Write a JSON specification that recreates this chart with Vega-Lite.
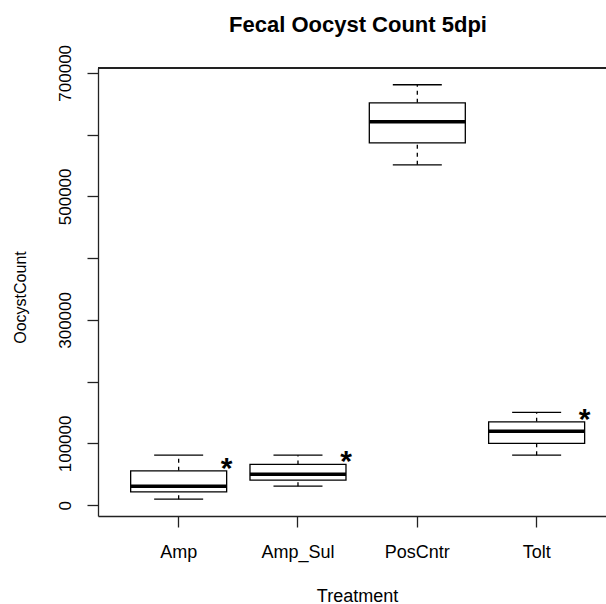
{
  "$schema": "https://vega.github.io/schema/vega-lite/v6.json",
  "autosize": {"type": "none"},
  "padding": {"left": 98, "top": 68, "right": 0, "bottom": 88},
  "width": 508,
  "height": 448,
  "background": "white",
  "title": {
    "text": "Fecal Oocyst Count 5dpi",
    "font": "Liberation Sans",
    "fontSize": 22,
    "fontWeight": "bold",
    "color": "black",
    "anchor": "middle",
    "baseline": "alphabetic",
    "offset": 16,
    "dx": 6,
    "dy": 26
  },
  "config": {
    "view": {"stroke": null},
    "axis": {
      "labelFont": "Liberation Sans",
      "titleFont": "Liberation Sans",
      "labelColor": "black",
      "titleColor": "black",
      "domainColor": "#222",
      "tickColor": "#222",
      "domainWidth": 1.3,
      "tickWidth": 1.3,
      "grid": false,
      "titleFontWeight": "normal"
    }
  },
  "data": {
    "values": [
      {"Treatment": "Amp", "min": 9700, "q1": 21600, "median": 30800, "q3": 55600, "max": 81000, "sig": "*"},
      {"Treatment": "Amp_Sul", "min": 30800, "q1": 40500, "median": 50200, "q3": 66000, "max": 81000, "sig": "*"},
      {"Treatment": "PosCntr", "min": 551000, "q1": 586700, "median": 620700, "q3": 651500, "max": 680700, "sig": ""},
      {"Treatment": "Tolt", "min": 81000, "q1": 100000, "median": 119900, "q3": 135000, "max": 150200, "sig": "*"}
    ]
  },
  "layer": [
    {
      "mark": {"type": "rule", "strokeDash": [4, 4], "strokeWidth": 1.3, "color": "black"},
      "encoding": {
        "x": {
          "field": "Treatment",
          "type": "nominal",
          "scale": {"type": "band", "paddingInner": 0, "paddingOuter": 0.1286, "align": 0.684},
          "axis": {
            "title": "Treatment",
            "titleFontSize": 18,
            "titleX": 259,
            "titleY": 85,
            "titleAlign": "center",
            "titleBaseline": "alphabetic",
            "labelFontSize": 18,
            "labelAngle": 0,
            "labelBaseline": "alphabetic",
            "labelPadding": 30,
            "tickSize": 11
          }
        },
        "y": {
          "field": "q3",
          "type": "quantitative",
          "scale": {"domain": [-17500, 707800], "nice": false, "zero": false},
          "axis": {
            "title": "OocystCount",
            "titleFontSize": 16,
            "titleAngle": 270,
            "titleX": -73,
            "titleY": 229,
            "titleAlign": "center",
            "titleBaseline": "alphabetic",
            "values": [0, 100000, 200000, 300000, 400000, 500000, 600000, 700000],
            "format": "d",
            "labelExpr": "(datum.value == 0 || datum.value % 200000 == 100000) ? datum.label : ''",
            "labelFontSize": 17,
            "labelAngle": 270,
            "labelAlign": "center",
            "labelBaseline": "alphabetic",
            "labelPadding": 17,
            "labelOverlap": false,
            "labelFlush": false,
            "tickSize": 11
          }
        },
        "y2": {"field": "max"}
      }
    },
    {
      "mark": {"type": "rule", "strokeDash": [4, 4], "strokeWidth": 1.3, "color": "black"},
      "encoding": {
        "x": {"field": "Treatment", "type": "nominal"},
        "y": {"field": "min", "type": "quantitative"},
        "y2": {"field": "q1"}
      }
    },
    {
      "mark": {"type": "tick", "orient": "horizontal", "size": 49, "thickness": 1.3, "color": "black", "opacity": 1},
      "encoding": {
        "x": {"field": "Treatment", "type": "nominal"},
        "y": {"field": "max", "type": "quantitative"}
      }
    },
    {
      "mark": {"type": "tick", "orient": "horizontal", "size": 49, "thickness": 1.3, "color": "black", "opacity": 1},
      "encoding": {
        "x": {"field": "Treatment", "type": "nominal"},
        "y": {"field": "min", "type": "quantitative"}
      }
    },
    {
      "mark": {"type": "bar", "width": 96, "fill": "white", "stroke": "black", "strokeWidth": 1.3},
      "encoding": {
        "x": {"field": "Treatment", "type": "nominal"},
        "y": {"field": "q1", "type": "quantitative"},
        "y2": {"field": "q3"}
      }
    },
    {
      "mark": {"type": "tick", "orient": "horizontal", "size": 96, "thickness": 3.5, "color": "black", "opacity": 1},
      "encoding": {
        "x": {"field": "Treatment", "type": "nominal"},
        "y": {"field": "median", "type": "quantitative"}
      }
    },
    {
      "mark": {"type": "text", "font": "Liberation Sans", "fontSize": 30, "fontWeight": "bold", "color": "black", "dx": 48, "dy": 7, "align": "center", "baseline": "alphabetic"},
      "encoding": {
        "x": {"field": "Treatment", "type": "nominal"},
        "y": {"field": "q3", "type": "quantitative"},
        "text": {"field": "sig"}
      }
    },
    {
      "mark": {"type": "rule", "color": "#222", "strokeWidth": 1.3},
      "encoding": {"y": {"datum": 707800, "type": "quantitative"}}
    }
  ]
}
